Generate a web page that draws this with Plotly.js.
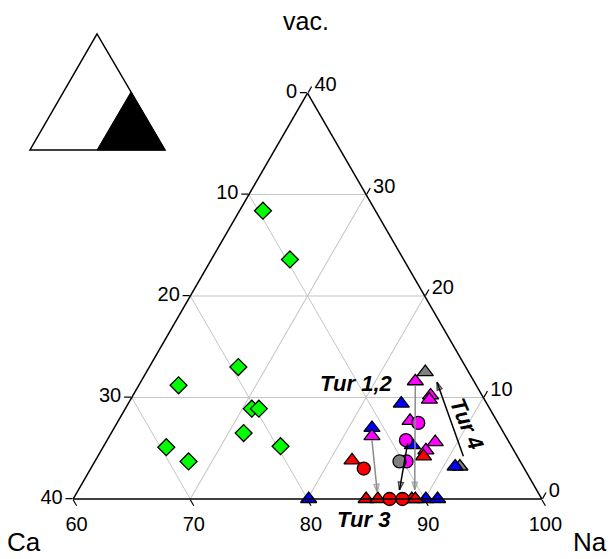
<!DOCTYPE html>
<html>
<head>
<meta charset="utf-8">
<script src="https://cdn.plot.ly/plotly-3.0.1.min.js"></script>
<style>html,body{margin:0;padding:0;background:#fff;}#chart{width:611px;height:559px;}</style>
</head>
<body>
<div id="chart"></div>
<script>
// ---- data (vac = a, Ca = b, Na = c; sum 100) ----
var greenVac = [28.4, 23.6, 13.0, 11.2, 8.9, 8.9, 6.5, 5.1, 3.7, 5.2];
var greenNa  = [62.0, 66.7, 67.6, 63.4, 70.8, 71.4, 71.3, 65.4, 68.0, 75.1];

var grayTriVac = [12.5, 3.2];
var grayTriNa  = [83.8, 91.4];

var blueTriVac = [0, 9.4, 7.0, 5.3, 3.2, 0, 0];
var blueTriNa  = [80.1, 83.3, 82.0, 86.3, 91.0, 90.1, 91.1];

var magTriVac = [6.2, 11.6, 10.2, 9.8, 7.7, 5.6, 4.8];
var magTriNa  = [82.4, 83.4, 85.4, 85.5, 84.9, 88.1, 87.7];

var magCirVac = [7.5, 5.8, 3.7];
var magCirNa  = [85.7, 85.5, 86.6];

var grayCirVac = [3.7];
var grayCirNa  = [86.0];

var redTriVac = [4.2, 3.8, 0, 0, 0, 0];
var redTriNa  = [87.8, 81.9, 85.0, 86.0, 88.9, 89.2];

var redCirVac = [3.0, 0, 0];
var redCirNa  = [83.3, 87.0, 88.1];

// arrows: [start, end]
var arrowGray1Vac = [5.8, 0.7],  arrowGray1Na = [82.6, 85.6];
var arrowGray2Vac = [11.2, 0.9], arrowGray2Na = [83.6, 88.7];
var arrowBlack1Vac = [5.5, 0.9], arrowBlack1Na = [85.8, 87.4];
var arrowBlack2Vac = [4.2, 11.5], arrowBlack2Na = [91.2, 85.3];

var tickValsA = [0, 10, 20, 30, 40], tickTextA = ['40', '30', '20', '10', '0'];   // left edge: Ca
var tickValsB = [0, 10, 20, 30, 40], tickTextB = ['100', '90', '80', '70', '60']; // bottom edge: Na
var tickValsC = [60, 70, 80, 90, 100], tickTextC = ['40', '30', '20', '10', '0']; // right edge: vac

function caOf(vac, na) { return vac.map(function (v, i) { return +(100 - v - na[i]).toFixed(2); }); }

var FONT = 'Liberation Sans, Arial, sans-serif';

function pts(vac, na, symbol, color, size) {
  return {
    type: 'scatterternary', mode: 'markers',
    a: vac, b: caOf(vac, na), c: na,
    marker: { symbol: symbol, size: size, color: color, line: { color: '#000', width: 1.3 } },
    hoverinfo: 'none', showlegend: false, cliponaxis: false
  };
}
function arrow(vac, na, color) {
  return {
    type: 'scatterternary', mode: 'lines+markers',
    a: vac, b: caOf(vac, na), c: na,
    line: { color: color, width: 1.5 },
    marker: { symbol: ['circle', 'arrow-open'], size: [0, 8], color: color, angleref: 'previous',
              line: { color: color, width: 1.5 } },
    hoverinfo: 'none', showlegend: false, cliponaxis: false
  };
}

var data = [
  pts(greenVac, greenNa, 'diamond', '#00ff00', 13),
  pts(grayTriVac, grayTriNa, 'triangle-up', '#808080', 14),
  pts(blueTriVac, blueTriNa, 'triangle-up', '#0000ff', 14),
  pts(magTriVac, magTriNa, 'triangle-up', '#ff00ff', 14),
  pts(magCirVac, magCirNa, 'circle', '#ff00ff', 13),
  pts(grayCirVac, grayCirNa, 'circle', '#808080', 13),
  pts(redTriVac, redTriNa, 'triangle-up', '#ff0000', 14),
  pts(redCirVac, redCirNa, 'circle', '#ff0000', 13),
  arrow(arrowGray1Vac, arrowGray1Na, '#8c8c8c'),
  arrow(arrowGray2Vac, arrowGray2Na, '#8c8c8c'),
  arrow(arrowBlack1Vac, arrowBlack1Na, '#000000'),
  arrow(arrowBlack2Vac, arrowBlack2Na, '#000000')
];

function axis(vals, text, min) {
  return {
    min: min, tickmode: 'array', tickvals: vals, ticktext: text,
    showline: true, linecolor: '#000', linewidth: 1.5,
    showgrid: true, gridcolor: '#c4c4c4', gridwidth: 1,
    ticks: 'outside', ticklen: 7, tickcolor: '#000', tickwidth: 1.2,
    tickfont: { family: FONT, size: 20, color: '#000' },
    title: { text: '' }
  };
}

var layout = {
  width: 611, height: 559,
  margin: { l: 0, r: 0, t: 0, b: 0 },
  paper_bgcolor: '#fff', plot_bgcolor: '#fff',
  showlegend: false,
  ternary: {
    sum: 100,
    domain: { x: [73 / 611, 542 / 611], y: [60 / 559, 466 / 559] },
    bgcolor: '#fff',
    aaxis: axis(tickValsA, tickTextA, 0),
    baxis: axis(tickValsB, tickTextB, 0),
    caxis: axis(tickValsC, tickTextC, 60)
  },
  annotations: [
    { xref: 'paper', yref: 'paper', x: 306 / 611, y: 1 - 21 / 559, text: 'vac.', showarrow: false,
      xanchor: 'center', yanchor: 'middle', font: { family: FONT, size: 25, color: '#000' } },
    { xref: 'paper', yref: 'paper', x: 24 / 611, y: 1 - 542 / 559, text: 'Ca', showarrow: false,
      xanchor: 'center', yanchor: 'middle', font: { family: FONT, size: 26, color: '#000' } },
    { xref: 'paper', yref: 'paper', x: 590 / 611, y: 1 - 542 / 559, text: 'Na', showarrow: false,
      xanchor: 'center', yanchor: 'middle', font: { family: FONT, size: 26, color: '#000' } },
    { xref: 'paper', yref: 'paper', x: 356 / 611, y: 1 - 383 / 559, text: '<b><i>Tur 1,2</i></b>', showarrow: false,
      xanchor: 'center', yanchor: 'middle', font: { family: FONT, size: 22, color: '#000' } },
    { xref: 'paper', yref: 'paper', x: 363 / 611, y: 1 - 519 / 559, text: '<b><i>Tur 3</i></b>', showarrow: false,
      xanchor: 'center', yanchor: 'middle', font: { family: FONT, size: 22, color: '#000' } },
    { xref: 'paper', yref: 'paper', x: 467 / 611, y: 1 - 423 / 559, text: '<b><i>Tur 4</i></b>', showarrow: false,
      xanchor: 'center', yanchor: 'middle', textangle: 67, font: { family: FONT, size: 22, color: '#000' } }
  ],
  shapes: [
    { type: 'path', xref: 'paper', yref: 'paper', path: 'M 0.1588 0.9392 L 0.0491 0.7317 L 0.2700 0.7317 Z',
      line: { color: '#000', width: 1.5 }, fillcolor: 'rgba(0,0,0,0)' },
    { type: 'path', xref: 'paper', yref: 'paper', path: 'M 0.2144 0.8354 L 0.1588 0.7317 L 0.2700 0.7317 Z',
      line: { color: '#000', width: 1 }, fillcolor: '#000' }
  ]
};

Plotly.newPlot('chart', data, layout, { staticPlot: true, displayModeBar: false });
</script>
</body>
</html>
